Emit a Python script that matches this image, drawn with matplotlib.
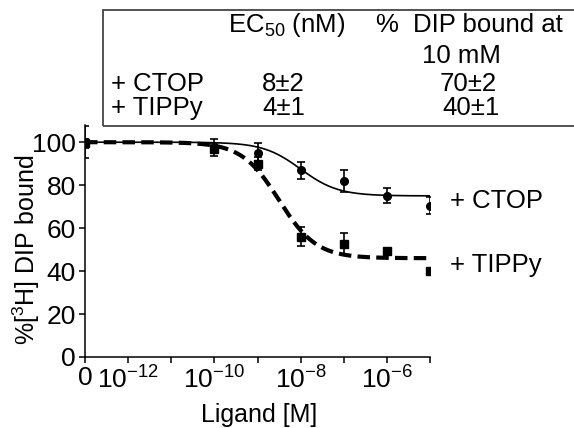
import numpy as np
import matplotlib
matplotlib.use("Agg")
import matplotlib.pyplot as plt
from matplotlib.patches import Rectangle

plt.rcParams['font.family'] = ['Liberation Sans', 'DejaVu Sans']
plt.rcParams['mathtext.fontset'] = 'custom'
plt.rcParams['mathtext.rm'] = 'Liberation Sans'
plt.rcParams['mathtext.it'] = 'Liberation Sans:italic'

# measured data (0 concentration drawn at the left end of the axis)
conc = [0, 1e-10, 1e-9, 1e-8, 1e-7, 1e-6, 1e-5]
ctop_mean = [100, 97.5, 95, 87, 82, 75, 70.5]
ctop_err = [7.5, 4, 4.5, 4, 5, 3.5, 4]
tippy_mean = [99.5, 97, 90, 56, 52.5, 49.5, 40]
tippy_err = [2, 2, 3, 4.5, 5, 0.5, 1.5]

# fitted sigmoid parameters: top, bottom, logEC50, hill
ctop_fit = [100, 75, -8.0, 1.0]
tippy_fit = [100, 46, -8.5, 1.0]

tick_pos = [-13, -12, -11, -10, -9, -8, -7, -6, -5]
tick_lab = ['0', '$10^{-12}$', '', '$10^{-10}$', '', '$10^{-8}$', '', '$10^{-6}$', '']

zero_pos = -13
xs = [zero_pos if c == 0 else np.log10(c) for c in conc]

W, H = 574, 428
fig = plt.figure(figsize=(W / 100, H / 100), dpi=100)
ax = fig.add_axes([85 / W, 1 - 357 / H, (430 - 85) / W, (357 - 125) / H])


def curve(p, x):
    top, bot, ec, h = p
    return bot + (top - bot) / (1 + 10 ** ((x - ec) * h))


xx = np.linspace(-13, -5, 300)
ax.plot(xx, curve(ctop_fit, xx), color='black', lw=1.2)
ax.plot(xx, curve(tippy_fit, xx), color='black', lw=3, dashes=(3, 1.5))

ax.errorbar(xs, ctop_mean, yerr=ctop_err, fmt='o', color='black', ms=5.5,
            capsize=3, elinewidth=1.2, capthick=1.2)
ax.errorbar(xs, tippy_mean, yerr=tippy_err, fmt='s', color='black', ms=5.5,
            capsize=3, elinewidth=1.2, capthick=1.2)

ax.set_xlim(-13, -5)
ax.set_ylim(0, 108)
ax.set_xticks(tick_pos)
ax.set_xticklabels(tick_lab)
ax.set_yticks([0, 20, 40, 60, 80, 100])
ax.tick_params(labelsize=19, length=4.5, width=1.1, pad=2)
for s in ['top', 'right']:
    ax.spines[s].set_visible(False)
for s in ['left', 'bottom']:
    ax.spines[s].set_linewidth(1.1)

fig.text(259 / W, 1 - 422 / H, 'Ligand [M]', fontsize=18, ha='center', va='baseline')
fig.text(26 / W, 1 - 250 / H, '%[$^{3}$H] DIP bound', fontsize=18, rotation=90,
         ha='center', va='center')

fig.text(450 / W, 1 - 208 / H, '+ CTOP', fontsize=18.5, va='baseline')
fig.text(450 / W, 1 - 272 / H, '+ TIPPy', fontsize=18.5, va='baseline')

# table box
fig.patches.append(Rectangle((103 / W, 1 - 126 / H), 0.9, (126 - 10) / H,
                             transform=fig.transFigure, fill=False,
                             edgecolor='#444444', lw=1.3))

def t(x, y, s):
    fig.text(x / W, 1 - y / H, s, fontsize=18.5, va='baseline')

t(228, 32, 'EC$_{50}$ (nM)')
t(375, 32, '%')
t(413, 32, 'DIP bound at')
t(422, 63, '10 mM')
t(111, 91, '+ CTOP')
t(262, 91, '8±2')
t(440, 91, '70±2')
t(111, 115, '+ TIPPy')
t(262, 115, '4±1')
t(442, 115, '40±1')

fig.savefig('out.png', dpi=100)
